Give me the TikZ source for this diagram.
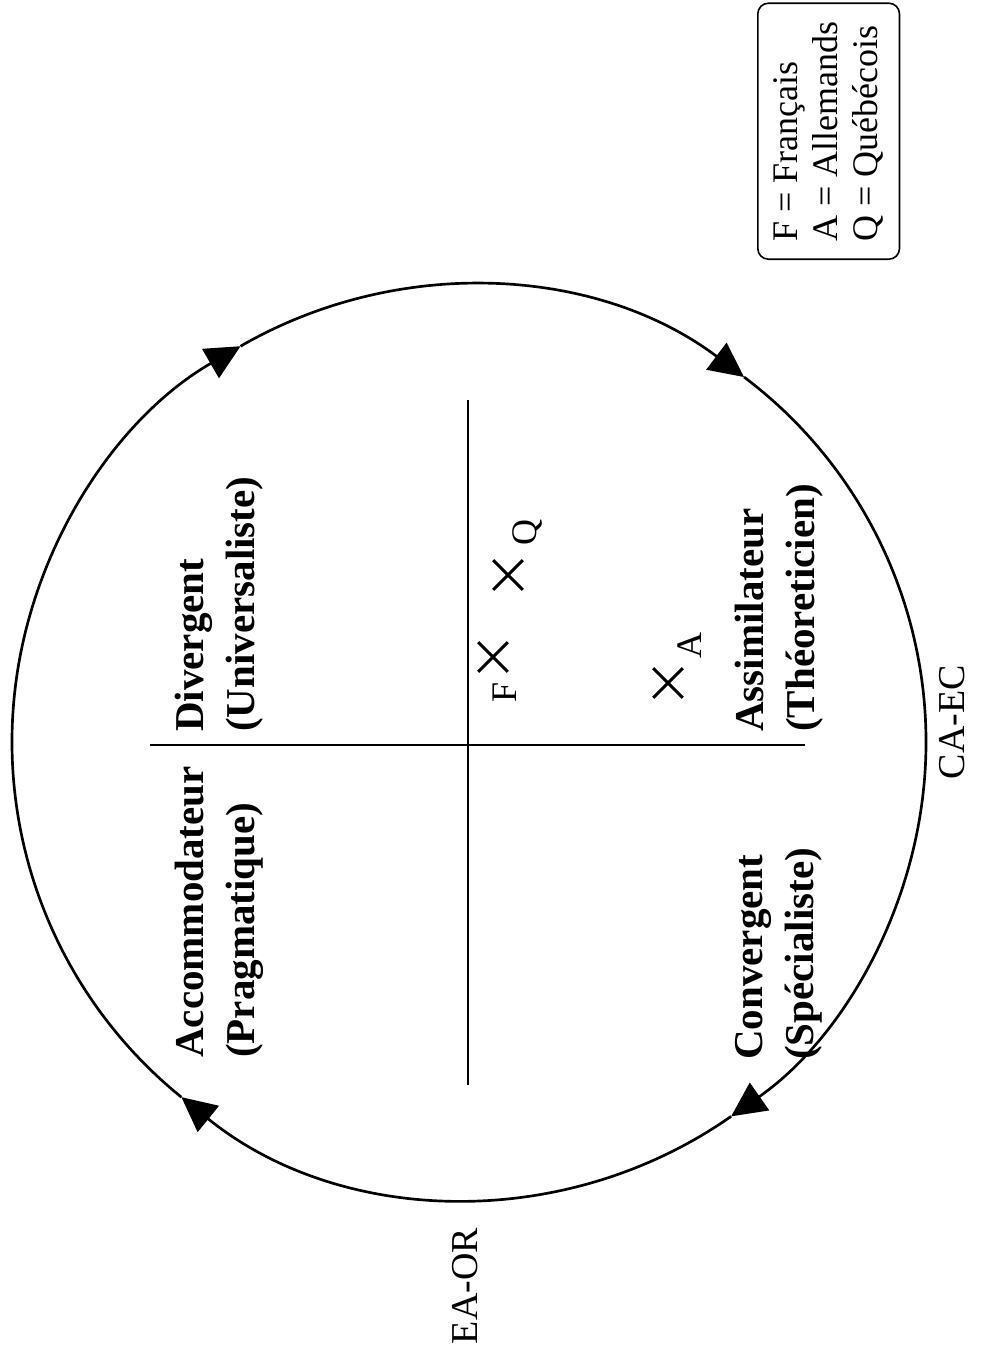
\documentclass[tikz,border=0pt]{standalone}
\usepackage{fontspec}
\setmainfont{Liberation Serif}
\usetikzlibrary{arrows.meta,shapes.misc}
\tikzset{
  ring/.style={line width=2pt,-{Triangle[length=26pt,width=25pt]}},
  axis/.style={line width=1.6pt},
  quad/.style={rotate=90,anchor=north west,inner sep=0pt,align=left,font=\bfseries\fontsize{30.75}{38}\selectfont},
  xmark/.style={cross out,draw,line width=2.2pt,minimum size=20pt,inner sep=0pt},
  mlabel/.style={rotate=90,inner sep=0pt,font=\fontsize{27}{30}\selectfont},
  axlabel/.style={rotate=90,inner sep=0pt,font=\fontsize{28.5}{32}\selectfont},
  legend/.style={draw,line width=1.2pt,rounded corners=8pt,rotate=90,anchor=north west,align=left,inner xsep=11pt,inner ysep=12pt,minimum width=192pt,font=\fontsize{27}{30}\selectfont}
}
\begin{document}
\begin{tikzpicture}[x=0.75pt,y=0.75pt]
\useasboundingbox (0,0) rectangle (984,-1353);
\coordinate (C) at (469,-742);
% circle with arrows (clockwise)
\draw[ring] ([shift={(231:457)}]C) arc[start angle=231,end angle=120,radius=457];
\draw[ring] ([shift={(120:457)}]C) arc[start angle=120,end angle=53,radius=457];
\draw[ring] ([shift={(53:457)}]C) arc[start angle=53,end angle=-55,radius=457];
\draw[ring] ([shift={(-55:457)}]C) arc[start angle=-55,end angle=-129,radius=457];
% axes
\coordinate (hl) at (150,-745);
\coordinate (hr) at (805,-745);
\coordinate (vt) at (468,-400);
\coordinate (vb) at (468,-1085);
\draw[axis] (hl) -- (hr);
\draw[axis] (vt) -- (vb);
% quadrant labels
\node[quad] (acc) at (175,-1058) {Accommodateur\\(Pragmatique)};
\node[quad] (div) at (175,-732) {Divergent\\(Universaliste)};
\node[quad] (con) at (735,-1060) {Convergent\\(Spécialiste)};
\node[quad] (ass) at (735,-732) {Assimilateur\\(Théoreticien)};
% marks
\node[xmark] (xq) at (508,-575) {};
\node[xmark] (xf) at (493,-657) {};
\node[xmark] (xa) at (668,-683) {};
\node[mlabel] (lq) at (527,-532) {Q};
\node[mlabel] (lf) at (505,-692) {F};
\node[mlabel] (la) at (690,-645) {A};
% axis labels
\node[axlabel] (caec) at (952,-722) {CA-EC};
\node[axlabel] (eaor) at (465,-1286) {EA-OR};
% legend
\node[legend] (leg) at (757,-260) {F = Français\\A = Allemands\\Q = Québécois};
\end{tikzpicture}
\end{document}
